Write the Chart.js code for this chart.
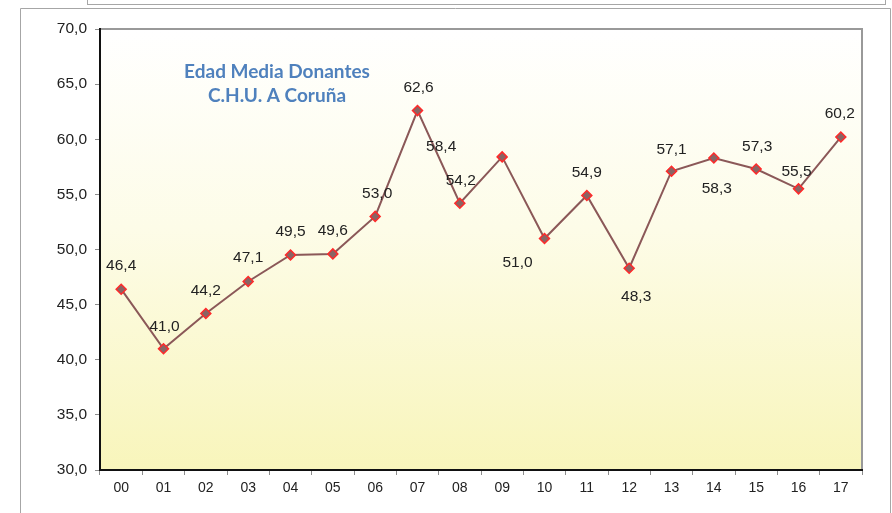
<!DOCTYPE html>
<html>
<head>
<meta charset="utf-8">
<script src="https://cdn.jsdelivr.net/npm/chart.js@4.4.1/dist/chart.umd.min.js"></script>
<style>
  html, body { margin: 0; padding: 0; background: #fff; }
  canvas { display: block; }
</style>
</head>
<body>
<canvas id="edadChart" width="892" height="513"></canvas>
<script>
// years (last two digits) and average donor age
const years = ['00', '01', '02', '03', '04', '05', '06', '07', '08', '09',
               '10', '11', '12', '13', '14', '15', '16', '17'];
const edadMedia = [46.4, 41.0, 44.2, 47.1, 49.5, 49.6, 53.0, 62.6, 54.2, 58.4,
                   51.0, 54.9, 48.3, 57.1, 58.3, 57.3, 55.5, 60.2];
const yTicks = [30, 35, 40, 45, 50, 55, 60, 65, 70];
const titleLines = ['Edad Media Donantes', 'C.H.U. A Coruña'];

// where each value label sits relative to its point (dx, dy)
const labelOffsets = [
  [0, -23], [1, -22], [0, -23], [0, -24], [0, -23], [0, -23], [2, -23], [1, -23], [1, -22],
  [-61, -10], [-27, 24], [0, -23], [7, 28], [0, -22], [3, 31], [1, -22], [-2, -17], [-1, -23]
];

const coma = v => v.toFixed(1).replace('.', ',');

// frame, plot background and borders
const fondo = {
  id: 'fondo',
  beforeDraw(chart) {
    const ctx = chart.ctx;
    const a = chart.chartArea;
    ctx.save();
    ctx.strokeStyle = '#a6a6a6';
    ctx.lineWidth = 1;
    ctx.strokeRect(87.5, -5, 798, 9.5);
    ctx.beginPath();
    ctx.moveTo(20.5, 520);
    ctx.lineTo(20.5, 8.5);
    ctx.lineTo(890.5, 8.5);
    ctx.lineTo(890.5, 520);
    ctx.stroke();
    const g = ctx.createLinearGradient(0, a.top, 0, a.bottom);
    g.addColorStop(0, '#ffffff');
    g.addColorStop(0.45, '#fdfce8');
    g.addColorStop(1, '#f8f5bb');
    ctx.fillStyle = g;
    ctx.fillRect(a.left, a.top, a.right - a.left, a.bottom - a.top);
    ctx.strokeStyle = '#999999';
    ctx.lineWidth = 2;
    ctx.beginPath();
    ctx.moveTo(a.left, a.top);
    ctx.lineTo(a.right, a.top);
    ctx.lineTo(a.right, a.bottom);
    ctx.stroke();
    ctx.restore();
  }
};

// title inside the plot and value labels
const textos = {
  id: 'textos',
  afterDatasetsDraw(chart) {
    const ctx = chart.ctx;
    ctx.save();
    ctx.textAlign = 'center';
    ctx.textBaseline = 'middle';
    ctx.fillStyle = '#4f81bd';
    ctx.font = 'bold 19px Lato, "Open Sans", sans-serif';
    ctx.fillText(titleLines[0], 277, 72);
    ctx.fillText(titleLines[1], 277, 96);

    ctx.fillStyle = '#222222';
    ctx.font = '15.5px "Liberation Sans", Arial, sans-serif';
    const meta = chart.getDatasetMeta(0);
    meta.data.forEach((pt, i) => {
      const off = labelOffsets[i];
      ctx.fillText(coma(edadMedia[i]), pt.x + off[0], pt.y + off[1]);
    });
    ctx.restore();
  }
};

const ctx = document.getElementById('edadChart').getContext('2d');
new Chart(ctx, {
  type: 'line',
  data: {
    labels: years,
    datasets: [{
      data: edadMedia,
      borderColor: '#8b5858',
      borderWidth: 2,
      tension: 0,
      pointStyle: 'rectRot',
      pointRadius: 5,
      pointBackgroundColor: '#8a6464',
      pointBorderColor: '#ff2a2a',
      pointBorderWidth: 1.5
    }]
  },
  options: {
    responsive: false,
    animation: false,
    layout: { padding: { left: 20, top: 29, right: 30, bottom: 0 } },
    plugins: {
      legend: { display: false },
      tooltip: { enabled: false }
    },
    scales: {
      x: {
        offset: true,
        afterFit: s => { s.height = 43; },
        grid: {
          offset: true,
          drawOnChartArea: false,
          drawTicks: true,
          tickLength: 5,
          color: '#8c8c8c'
        },
        border: { color: '#111111', width: 2 },
        ticks: {
          color: '#222222',
          padding: 5,
          font: { family: '"Liberation Sans", Arial, sans-serif', size: 14 }
        }
      },
      y: {
        min: 30,
        max: 70,
        afterFit: s => { s.width = 80; },
        afterBuildTicks: s => { s.ticks = yTicks.map(v => ({ value: v })); },
        grid: {
          drawOnChartArea: false,
          drawTicks: true,
          tickLength: 5,
          color: '#8c8c8c'
        },
        border: { color: '#111111', width: 2 },
        ticks: {
          color: '#222222',
          padding: 8,
          callback: v => coma(v),
          font: { family: '"Liberation Sans", Arial, sans-serif', size: 15.5 }
        }
      }
    }
  },
  plugins: [fondo, textos]
});
</script>
</body>
</html>
